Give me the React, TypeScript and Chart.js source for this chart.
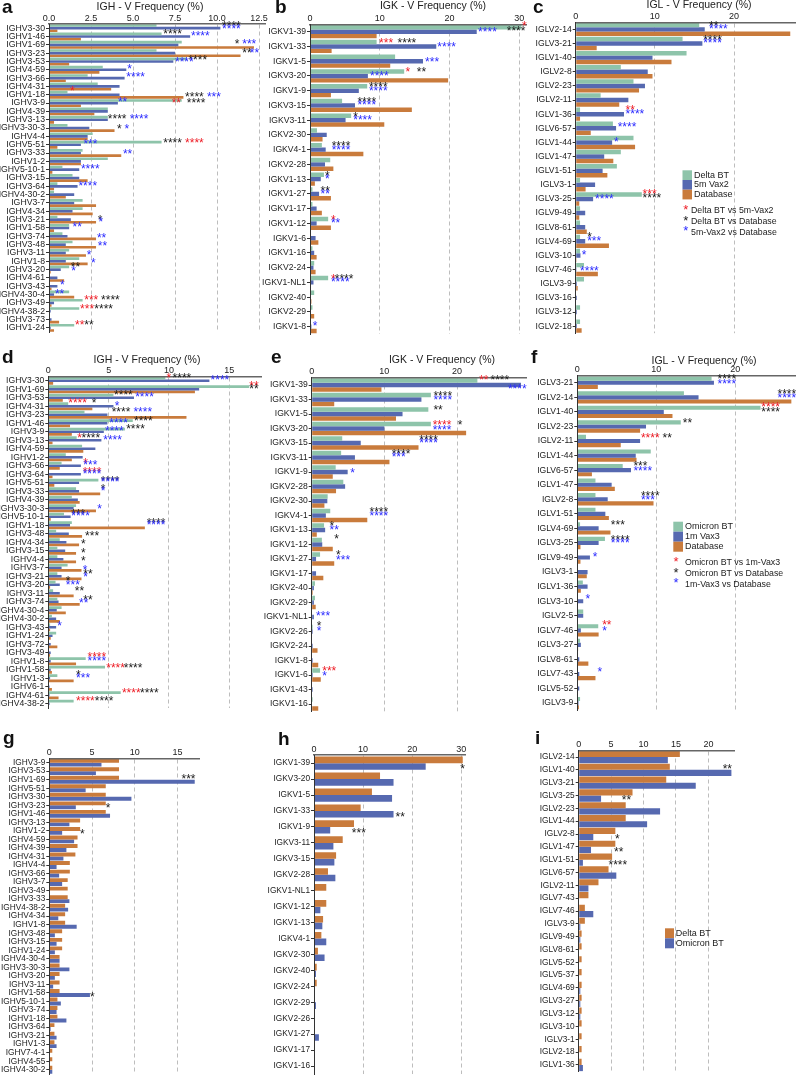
import React, { useEffect, useRef } from 'react';
import { Chart, registerables } from 'chart.js';

Chart.register(...registerables);

const W = 797;
const H = 1080;
const GREEN = '#8ec4aa';
const BLUE = '#5669b0';
const ORANGE = '#c97b3c';
const FAM = '"Liberation Sans", Arial, Helvetica, sans-serif';
const STAR_COLORS: Record<string, string> = { r: '#ee1c25', k: '#1a1a1a', b: '#2b2bff' };

// ---------- panel a : IGH, Delta BT / 5m Vax2 / Database ----------
const aCats = ['IGHV3-30','IGHV1-46','IGHV1-69','IGHV3-23','IGHV3-53','IGHV4-59','IGHV3-66','IGHV4-31','IGHV1-18','IGHV3-9','IGHV4-39','IGHV3-13','IGHV3-30-3','IGHV4-4','IGHV5-51','IGHV3-33','IGHV1-2','IGHV5-10-1','IGHV3-15','IGHV3-64','IGHV4-30-2','IGHV3-7','IGHV4-34','IGHV3-21','IGHV1-58','IGHV3-74','IGHV3-48','IGHV3-11','IGHV1-8','IGHV3-20','IGHV4-61','IGHV3-43','IGHV4-30-4','IGHV3-49','IGHV4-38-2','IGHV3-73','IGHV1-24'];
const aDeltaBT = [6.4,6.7,7.9,6.4,8.2,3.2,2.3,2.9,1.1,7.9,3.5,3.5,1.1,2.6,6.7,2.0,3.5,0.8,1.4,0.5,0.3,2.0,2.0,0.5,1.2,0.8,1.4,1.2,1.8,1.2,0,0.05,1.2,2.0,1.8,0,1.5];
const aVax2 = [10.2,8.4,7.7,7.5,7.4,4.6,4.5,4.2,4.2,4.1,3.5,3.5,2.4,2.3,1.9,1.9,1.9,1.8,1.8,1.7,1.5,1.5,1.4,1.3,1.2,1.1,1.0,1.0,1.0,0.7,0.5,0.5,0.3,0.3,0.1,0.15,0.1];
const aDatabase = [0.5,1.9,12.2,11.4,1.2,3.0,1.0,3.7,8.0,1.9,2.7,0.3,3.9,2.3,0.5,4.3,1.9,0.2,2.3,0.3,1.0,2.8,2.6,2.8,0.3,2.8,2.8,2.2,2.3,0.1,0.9,0.15,1.5,0.15,0,0.6,0.3];
const aTicks = [0, 2.5, 5, 7.5, 10, 12.5];
const aStars: [string, number, number, string, string][] = [
  ['IGHV3-30',0.4,10.3,'k','****'],['IGHV3-30',1.7,10.3,'b','****'],
  ['IGHV1-46',0.3,6.8,'k','****'],['IGHV1-46',1,8.45,'b','****'],
  ['IGHV1-69',1,11.05,'k','*'],['IGHV1-69',1,11.5,'b','***'],
  ['IGHV3-23',1.2,11.5,'k','**'],['IGHV3-23',1.2,11.95,'b','**'],
  ['IGHV3-53',0.6,8.3,'k','****'],['IGHV3-53',1.5,7.5,'b','****'],
  ['IGHV4-59',1,4.65,'b','*'],['IGHV3-66',1,4.6,'b','****'],
  ['IGHV1-18',0,1.25,'r','*'],['IGHV1-18',2,8.1,'k','****'],['IGHV1-18',2,9.4,'b','***'],
  ['IGHV3-9',1,4.1,'b','**'],['IGHV3-9',1.4,7.3,'r','**'],['IGHV3-9',1.4,8.2,'k','****'],
  ['IGHV3-13',1,3.5,'k','****'],['IGHV3-13',1,4.8,'b','****'],
  ['IGHV3-30-3',1.5,4.05,'k','*'],['IGHV3-30-3',1.5,4.5,'b','*'],
  ['IGHV5-51',0.5,6.8,'k','****'],['IGHV5-51',0.5,8.1,'r','****'],['IGHV5-51',1,2.05,'b','***'],
  ['IGHV3-33',1.5,4.4,'b','**'],['IGHV5-10-1',1,1.9,'b','****'],['IGHV3-64',1,1.75,'b','****'],
  ['IGHV3-21',1.5,2.9,'k','*'],['IGHV3-21',2.4,2.95,'b','*'],
  ['IGHV1-58',1,1.4,'b','**'],['IGHV3-74',2,2.85,'b','**'],['IGHV3-48',2,2.9,'b','**'],
  ['IGHV3-11',2,2.25,'b','*'],['IGHV1-8',2,2.5,'b','*'],
  ['IGHV3-20',0.5,1.3,'k','**'],['IGHV3-20',2,1.33,'b','*'],
  ['IGHV3-43',1,0.65,'b','*'],['IGHV4-30-4',1,0.35,'b','**'],
  ['IGHV3-49',0.3,2.1,'r','***'],['IGHV3-49',0.3,3.1,'k','****'],
  ['IGHV4-38-2',0.3,1.85,'r','***'],['IGHV4-38-2',0.3,2.7,'k','****'],
  ['IGHV1-24',0.3,1.55,'r','**'],['IGHV1-24',0.3,2.1,'k','**'],
];

// ---------- panel b : IGK ----------
const bCats = ['IGKV1-39','IGKV1-33','IGKV1-5','IGKV3-20','IGKV1-9','IGKV3-15','IGKV3-11','IGKV2-30','IGKV4-1','IGKV2-28','IGKV1-13','IGKV1-27','IGKV1-17','IGKV1-12','IGKV1-6','IGKV1-16','IGKV2-24','IGKV1-NL1','IGKV2-40','IGKV2-29','IGKV1-8'];
const bDeltaBT = [30.3,9.55,12.2,13.5,8.2,4.6,5.9,1.0,1.7,2.9,2.0,0.35,0.35,2.6,0,0.35,0.6,2.6,0.6,0.35,0];
const bVax2 = [23.9,18.1,16.2,8.3,7.0,6.45,5.1,2.4,2.25,2.15,1.55,1.3,0.95,0.95,0.8,0.6,0.5,0.5,0,0,0.2];
const bDatabase = [9.55,3.1,11.5,19.8,3.0,14.6,10.65,1.8,7.65,3.35,0.7,3.0,1.7,3.0,1.2,0.95,0.8,0,0.2,0.6,0.95];
const bTicks = [0, 10, 20, 30];
const bStars: [string, number, number, string, string][] = [
  ['IGKV1-39',0,30.4,'r','*'],['IGKV1-39',1,28.2,'k','****'],['IGKV1-39',1.3,24.1,'b','****'],
  ['IGKV1-33',0.3,9.9,'r','***'],['IGKV1-33',0.3,12.55,'k','****'],['IGKV1-33',1.3,18.25,'b','****'],
  ['IGKV1-5',1.3,16.5,'b','***'],
  ['IGKV3-20',0.3,13.7,'r','*'],['IGKV3-20',0.3,15.3,'k','**'],['IGKV3-20',1.3,8.6,'b','****'],
  ['IGKV1-9',0.45,8.45,'k','****'],['IGKV1-9',1.2,8.45,'b','****'],
  ['IGKV3-15',0.45,6.8,'k','****'],['IGKV3-15',1.2,6.8,'b','****'],
  ['IGKV3-11',0.45,6.2,'k','*'],['IGKV3-11',1.2,6.2,'b','****'],
  ['IGKV4-1',0.45,3.1,'k','****'],['IGKV4-1',1.2,3.1,'b','****'],
  ['IGKV1-13',0.45,2.15,'k','*'],['IGKV1-13',1.2,2.15,'b','*'],
  ['IGKV1-27',0.45,1.5,'k','**'],['IGKV1-27',1.2,1.5,'b','**'],
  ['IGKV1-12',0.45,3.0,'r','*'],['IGKV1-12',1.2,3.0,'b','**'],
  ['IGKV1-NL1',0.45,3.0,'r','*'],['IGKV1-NL1',0.45,3.55,'k','****'],['IGKV1-NL1',1.2,3.0,'b','****'],
  ['IGKV1-8',1,0.4,'b','*'],
];

// ---------- panel c : IGL ----------
const cCats = ['IGLV2-14','IGLV3-21','IGLV1-40','IGLV2-8','IGLV2-23','IGLV2-11','IGLV1-36','IGLV6-57','IGLV1-44','IGLV1-47','IGLV1-51','IGLV3-1','IGLV3-25','IGLV9-49','IGLV8-61','IGLV4-69','IGLV3-10','IGLV7-46','IGLV3-9','IGLV3-16','IGLV3-12','IGLV2-18'];
const cDeltaBT = [15.6,13.5,14.0,5.7,7.3,3.15,0.55,4.7,7.3,5.7,5.2,0.55,8.35,0.55,0.55,0.55,0.55,1.05,1.05,0,0.55,0.55];
const cVax2 = [16.3,16.0,9.7,9.1,8.75,6.65,6.1,5.1,4.6,3.6,3.4,2.45,2.2,1.2,1.2,1.2,0.6,0.1,0.15,0.15,0.15,0.15];
const cDatabase = [27.1,2.65,12.1,9.7,8.0,5.5,0.55,1.9,7.5,4.75,4.0,1.25,0.45,0.45,1.4,4.2,0.1,2.8,0.25,0,0,0.75];
const cTicks = [0, 10, 20];
const cStars: [string, number, number, string, string][] = [
  ['IGLV2-14',0.4,16.85,'k','**'],['IGLV2-14',1.1,16.85,'b','****'],
  ['IGLV3-21',0.4,16.1,'k','****'],['IGLV3-21',1.1,16.1,'b','****'],
  ['IGLV1-36',0.3,6.3,'r','**'],['IGLV1-36',1.2,6.3,'b','****'],
  ['IGLV6-57',1,5.3,'b','****'],['IGLV1-44',1,4.85,'b','*'],
  ['IGLV3-25',0.1,8.45,'r','***'],['IGLV3-25',1.0,8.45,'k','****'],['IGLV3-25',1.2,2.45,'b','****'],
  ['IGLV4-69',0.2,1.45,'k','*'],['IGLV4-69',1.1,1.45,'b','***'],
  ['IGLV3-10',1,0.75,'b','*'],['IGLV7-46',1.5,0.55,'b','****'],
];
const cStarLegend = ['Delta BT vs 5m-Vax2', 'Delta BT vs Database', '5m-Vax2 vs Database'];

// ---------- panel d : IGH, Omicron BT / 1m Vax3 / Database ----------
const dCats = ['IGHV3-30','IGHV1-69','IGHV3-53','IGHV4-31','IGHV3-23','IGHV1-46','IGHV3-9','IGHV3-13','IGHV4-59','IGHV1-2','IGHV3-66','IGHV3-64','IGHV5-51','IGHV3-33','IGHV4-39','IGHV3-30-3','IGHV5-10-1','IGHV1-18','IGHV3-48','IGHV4-34','IGHV3-15','IGHV4-4','IGHV3-7','IGHV3-21','IGHV3-20','IGHV3-11','IGHV3-74','IGHV4-30-4','IGHV4-30-2','IGHV3-43','IGHV1-24','IGHV3-72','IGHV3-49','IGHV1-8','IGHV1-58','IGHV1-3','IGHV6-1','IGHV4-61','IGHV4-38-2'];
const dOmicronBT = [9.7,16.65,5.4,1.65,3.0,7.0,6.35,2.35,2.8,1.45,1.1,0,4.15,2.3,1.95,2.3,1.3,1.95,0.65,0.95,0.75,0.75,1.6,0.75,0.6,0.4,0.75,1.1,0.3,0.15,0.65,0,0,3.1,4.7,0.75,0,6.0,2.1];
const dVax3 = [13.35,12.5,7.1,5.4,4.9,4.9,4.6,4.4,3.9,2.85,2.7,2.7,2.55,2.55,2.45,2.1,1.85,1.8,1.7,1.5,1.4,1.25,1.1,1.1,0.95,0.95,0.85,0.7,0.65,0.65,0.35,0.2,0.2,0.2,0.2,0.15,0.1,0.1,0.1];
const dDatabase = [0.4,12.15,1.2,3.65,11.45,1.8,1.95,0.35,2.9,1.95,0.95,0.35,0.5,4.3,2.6,3.95,0.2,8.0,2.8,2.55,2.3,2.3,2.75,2.75,0.15,2.1,2.6,1.45,0.95,0.15,0.2,0.75,0.15,2.3,0.3,2.1,0.3,0.85,0];
const dTicks = [0, 5, 10, 15];
const dStars: [string, number, number, string, string][] = [
  ['IGHV3-30',0.2,9.8,'r','*'],['IGHV3-30',0.2,10.3,'k','****'],['IGHV3-30',1.2,13.45,'b','****'],
  ['IGHV1-69',0,16.65,'r','**'],['IGHV1-69',1.2,16.65,'k','**'],
  ['IGHV3-53',0.3,5.45,'k','****'],['IGHV3-53',1,7.2,'b','****'],
  ['IGHV4-31',0.2,1.65,'r','****'],['IGHV4-31',0.2,3.6,'k','*'],['IGHV4-31',1.3,5.5,'b','*'],
  ['IGHV3-23',0.3,5.25,'k','****'],['IGHV3-23',0.3,7.05,'b','****'],
  ['IGHV1-46',0.3,7.1,'k','****'],['IGHV1-46',1.2,5.05,'b','****'],
  ['IGHV3-9',0.2,6.45,'k','****'],['IGHV3-9',1.1,4.7,'b','****'],
  ['IGHV3-13',0.3,2.4,'r','*'],['IGHV3-13',0.3,2.75,'k','****'],['IGHV3-13',1.2,4.55,'b','****'],
  ['IGHV3-66',0.4,2.9,'r','*'],['IGHV3-66',1.2,2.9,'b','***'],
  ['IGHV3-64',0.6,2.85,'r','****'],['IGHV3-64',1.2,2.85,'b','****'],
  ['IGHV5-51',0.5,4.35,'k','****'],['IGHV5-51',1.2,4.35,'b','****'],
  ['IGHV3-33',0.4,4.35,'k','*'],['IGHV3-33',1.2,4.35,'b','*'],
  ['IGHV3-30-3',1.4,4.05,'b','*'],
  ['IGHV5-10-1',0.3,1.9,'k','***'],['IGHV5-10-1',1.2,1.9,'b','****'],
  ['IGHV1-18',0.5,8.15,'k','****'],['IGHV1-18',1.2,8.15,'b','****'],
  ['IGHV3-48',2,3.05,'k','***'],['IGHV4-34',2,2.7,'k','*'],['IGHV3-15',2,2.7,'k','*'],['IGHV4-4',2,2.7,'k','*'],
  ['IGHV3-7',2,2.85,'b','*'],
  ['IGHV3-21',0.4,2.9,'k','**'],['IGHV3-21',1.6,2.9,'b','*'],
  ['IGHV3-20',0,1.45,'k','*'],['IGHV3-20',1.3,1.45,'b','***'],
  ['IGHV3-11',0.5,2.2,'k','**'],
  ['IGHV3-74',0.5,2.9,'k','**'],['IGHV3-74',1.7,2.55,'b','**'],
  ['IGHV3-43',1,0.75,'b','*'],
  ['IGHV1-8',-0.4,3.25,'r','****'],['IGHV1-8',1.3,3.25,'b','****'],
  ['IGHV1-58',0.5,4.8,'r','****'],['IGHV1-58',0.5,6.25,'k','****'],
  ['IGHV1-3',0,2.3,'k','*'],['IGHV1-3',1.2,2.3,'b','***'],
  ['IGHV4-61',0.3,6.1,'r','****'],['IGHV4-61',0.3,7.6,'k','****'],
  ['IGHV4-38-2',0.3,2.3,'r','****'],['IGHV4-38-2',0.3,3.85,'k','****'],
];

// ---------- panel e : IGK ----------
const eCats = ['IGKV1-39','IGKV1-33','IGKV1-5','IGKV3-20','IGKV3-15','IGKV3-11','IGKV1-9','IGKV2-28','IGKV2-30','IGKV4-1','IGKV1-13','IGKV1-12','IGKV1-27','IGKV1-17','IGKV2-40','IGKV2-29','IGKV1-NL1','IGKV2-26','IGKV2-24','IGKV1-8','IGKV1-6','IGKV1-43','IGKV1-16'];
const eOmicronBT = [22.8,16.4,16.05,16.4,4.2,4.05,3.3,4.35,2.2,2.55,1.7,1.4,1.15,0,0.45,0.45,0,0.15,0,0,1.15,0,0.15];
const eVax3 = [28.8,15.1,12.5,10.0,6.75,5.95,4.95,4.6,2.15,1.95,1.85,1.45,0.6,0.6,0.3,0.3,0.3,0.15,0.15,0.15,0.15,0.15,0];
const eDatabase = [9.6,3.1,11.6,21.25,14.7,10.7,2.9,3.35,1.75,7.65,0.7,2.9,3.1,1.6,0.15,0.55,0,0,0.8,0.9,1.25,0,0.9];
const eTicks = [0, 10, 20];
const eStars: [string, number, number, string, string][] = [
  ['IGKV1-39',0.1,23.05,'r','**'],['IGKV1-39',0.1,24.6,'k','****'],['IGKV1-39',2,27,'b','****'],
  ['IGKV1-33',0.4,16.75,'k','****'],['IGKV1-33',1.2,16.75,'b','****'],
  ['IGKV1-5',0.2,16.75,'k','**'],
  ['IGKV3-20',0.4,16.65,'r','****'],['IGKV3-20',0.4,20.1,'k','*'],['IGKV3-20',1.4,16.65,'b','****'],
  ['IGKV3-15',0.5,14.8,'k','****'],['IGKV3-15',1.2,14.8,'b','****'],
  ['IGKV3-11',0.3,11.0,'k','****'],['IGKV3-11',1.1,11.0,'b','***'],
  ['IGKV1-9',1.3,5.3,'b','*'],
  ['IGKV4-1',0.4,7.95,'k','****'],['IGKV4-1',1.2,7.95,'b','****'],
  ['IGKV1-13',0.3,2.45,'k','*'],['IGKV1-13',1.2,2.45,'b','**'],
  ['IGKV1-12',0,3.1,'k','*'],
  ['IGKV1-27',0.3,3.35,'k','*'],['IGKV1-27',1.3,3.35,'b','***'],
  ['IGKV1-NL1',1,0.6,'b','***'],
  ['IGKV2-26',0,0.7,'k','*'],['IGKV2-26',1,0.7,'b','*'],
  ['IGKV1-6',0.3,1.45,'r','***'],['IGKV1-6',1.3,1.45,'b','*'],
];

// ---------- panel f : IGL ----------
const fCats = ['IGLV3-21','IGLV2-14','IGLV1-40','IGLV2-23','IGLV2-11','IGLV1-44','IGLV6-57','IGLV1-47','IGLV2-8','IGLV1-51','IGLV4-69','IGLV3-25','IGLV9-49','IGLV3-1','IGLV1-36','IGLV3-10','IGLV2-5','IGLV7-46','IGLV3-27','IGLV8-61','IGLV7-43','IGLV5-52','IGLV3-9'];
const fOmicronBT = [17.0,13.5,23.2,13.1,1.1,9.3,5.75,2.3,2.3,2.3,0.35,3.5,0,0,0.7,0,0.75,2.65,0.35,0,0,0,0.35];
const fVax3 = [17.3,15.35,10.95,8.7,7.95,7.4,6.8,4.35,3.85,3.55,2.7,2.7,1.6,1.3,1.3,0.75,0.75,0.45,0.45,0.25,0.25,0.25,0.15];
const fDatabase = [2.6,27.1,12.05,7.95,5.5,7.5,1.85,4.75,9.65,4.0,4.2,0.4,0.4,1.2,0.45,0.05,0,2.7,0.1,1.4,2.3,0,0.2];
const fTicks = [0, 10, 20];
const fStars: [string, number, number, string, string][] = [
  ['IGLV3-21',0.35,17.75,'k','****'],['IGLV3-21',1.4,17.75,'b','****'],
  ['IGLV2-14',0.4,25.35,'k','****'],['IGLV2-14',1.35,25.35,'b','****'],
  ['IGLV1-40',0.1,23.3,'r','****'],['IGLV1-40',1.2,23.3,'k','****'],
  ['IGLV2-23',0.4,13.35,'k','**'],
  ['IGLV2-11',0.5,8.05,'r','****'],['IGLV2-11',0.5,10.8,'k','**'],
  ['IGLV6-57',0.3,7.1,'k','***'],['IGLV6-57',1.3,7.1,'b','****'],
  ['IGLV2-8',0.5,8.05,'k','****'],['IGLV2-8',1.3,8.05,'b','***'],
  ['IGLV4-69',0.3,4.25,'k','***'],
  ['IGLV3-25',0.4,4.25,'k','****'],['IGLV3-25',1.3,4.25,'b','****'],
  ['IGLV9-49',1.1,1.95,'b','*'],['IGLV3-10',0.7,1.05,'b','*'],
  ['IGLV7-46',0,3.15,'r','**'],['IGLV7-46',1.4,3.15,'b','*'],
  ['IGLV7-43',0.6,2.55,'b','*'],
];
const fStarLegend = ['Omicron BT vs 1m-Vax3', 'Omicron BT vs Database', '1m-Vax3 vs Database'];

// ---------- panel g : IGH, Delta BT vs Omicron BT ----------
const gCats = ['IGHV3-9','IGHV3-53','IGHV1-69','IGHV5-51','IGHV3-30','IGHV3-23','IGHV1-46','IGHV3-13','IGHV1-2','IGHV4-59','IGHV4-39','IGHV4-31','IGHV4-4','IGHV3-66','IGHV3-7','IGHV3-49','IGHV3-33','IGHV4-38-2','IGHV4-34','IGHV1-8','IGHV3-48','IGHV3-15','IGHV1-24','IGHV4-30-4','IGHV3-30-3','IGHV3-20','IGHV3-11','IGHV1-58','IGHV5-10-1','IGHV3-74','IGHV1-18','IGHV3-64','IGHV3-21','IGHV1-3','IGHV7-4-1','IGHV4-55','IGHV4-30-2'];
const gDeltaBT = [8.15,8.15,8.15,6.6,6.6,6.6,6.6,3.6,3.6,3.3,3.3,3.05,2.4,2.4,2.15,2.15,2.15,1.85,1.85,1.85,1.5,1.5,1.5,1.2,1.2,1.2,1.2,1.2,0.95,0.95,0.95,0.6,0.6,0.6,0.35,0.35,0.35];
const gOmicronBT = [6.1,5.45,17.0,4.25,9.6,3.1,7.1,2.35,1.5,2.9,2.0,1.65,0.85,1.15,1.5,0,2.35,2.2,1.05,3.2,0.65,0.85,0.65,1.2,2.35,0.65,0.45,4.75,1.35,0.85,2.0,0.15,0.85,0.85,0,0,0.35];
const gTicks = [0, 5, 10, 15];
const gStars: [string, number, number, string, string][] = [
  ['IGHV1-69',-0.4,15.45,'k','***'],['IGHV3-23',0.6,6.6,'k','*'],
  ['IGHV1-2',0.7,3.6,'k','*'],['IGHV1-58',1,4.75,'k','*'],
];

// ---------- panel h : IGK ----------
const hCats = ['IGKV1-39','IGKV3-20','IGKV1-5','IGKV1-33','IGKV1-9','IGKV3-11','IGKV3-15','IGKV2-28','IGKV1-NL1','IGKV1-12','IGKV1-13','IGKV4-1','IGKV2-30','IGKV2-40','IGKV2-24','IGKV2-29','IGKV2-26','IGKV1-27','IGKV1-17','IGKV1-16'];
const hDeltaBT = [30.3,13.45,11.8,9.5,8.15,5.85,4.5,2.85,2.5,2.5,1.85,1.5,0.8,0.55,0.55,0.2,0.2,0.2,0.2,0.2];
const hOmicronBT = [22.75,16.2,15.9,16.2,3.3,3.95,4.15,4.35,0,1.3,1.7,2.5,2.15,0.4,0,0.4,0.15,1.0,0,0.1];
const hTicks = [0, 10, 20, 30];
const hStars: [string, number, number, string, string][] = [
  ['IGKV1-39',1,29.8,'k','*'],['IGKV1-33',1,16.6,'k','**'],['IGKV1-9',1,7.7,'k','***'],
];

// ---------- panel i : IGL ----------
const iCats = ['IGLV2-14','IGLV1-40','IGLV3-21','IGLV3-25','IGLV2-23','IGLV1-44','IGLV2-8','IGLV1-47','IGLV1-51','IGLV6-57','IGLV2-11','IGLV7-43','IGLV7-46','IGLV3-9','IGLV9-49','IGLV8-61','IGLV5-52','IGLV5-37','IGLV4-69','IGLV3-27','IGLV3-12','IGLV3-10','IGLV3-1','IGLV2-18','IGLV1-36'];
const iDeltaBT = [15.6,14.05,13.5,8.3,7.25,7.25,5.65,5.65,5.15,4.6,3.05,1.5,0.95,0.95,0.45,0.45,0.45,0.45,0.45,0.45,0.45,0.45,0.45,0.45,0.45];
const iOmicronBT = [13.75,23.55,18.05,3.45,12.55,10.55,2.25,1.9,0.65,5.8,1.5,0,2.25,0.25,0.25,0,0,0,0.25,0.25,0.25,0,0,0,0.65];
const iTicks = [0, 5, 10, 15, 20];
const iStars: [string, number, number, string, string][] = [
  ['IGLV1-40',0,22.2,'k','**'],['IGLV3-25',0.9,6.65,'k','**'],['IGLV2-8',0.9,5.6,'k','*'],
  ['IGLV1-47',0.9,5.45,'k','**'],['IGLV1-51',1,4.6,'k','****'],
];

type Series = { label: string; data: number[]; color: string };
type Spec = {
  id: string; letterPos: [number, number]; title?: string; titlePos?: [number, number];
  cats: string[]; series: Series[]; ticks: number[]; fmt: (v: number) => string; max: number;
  rect: [number, number, number, number]; catPct: number; stars: [string, number, number, string, string][];
  labelSize: number;
  legend?: { boxX: number; boxW: number; boxTops: number[]; boxH: number; textX: number;
    starX?: number; starTextX?: number; starYs?: number[]; starLabels?: string[] };
};

const plain = (v: number) => String(v);
const triad = (l1: string, d1: number[], l2: string, d2: number[], d3: number[]): Series[] => [
  { label: l1, data: d1, color: GREEN }, { label: l2, data: d2, color: BLUE }, { label: 'Database', data: d3, color: ORANGE },
];
const duo = (d1: number[], d2: number[]): Series[] => [
  { label: 'Delta BT', data: d1, color: ORANGE }, { label: 'Omicron BT', data: d2, color: BLUE },
];

const specs: Spec[] = [
  { id: 'a', letterPos: [2, 13], title: 'IGH - V Frequency (%)', titlePos: [150, 7], cats: aCats,
    series: triad('Delta BT', aDeltaBT, '5m Vax2', aVax2, aDatabase), ticks: aTicks, fmt: (v) => v.toFixed(1),
    max: 12.88, rect: [49, 24, 265.4, 332], catPct: 0.95, stars: aStars, labelSize: 8.7 },
  { id: 'b', letterPos: [275, 13], title: 'IGK - V Frequency (%)', titlePos: [433, 6.5], cats: bCats,
    series: triad('Delta BT', bDeltaBT, '5m Vax2', bVax2, bDatabase), ticks: bTicks, fmt: plain,
    max: 31.05, rect: [310, 24.3, 526.6, 334], catPct: 0.9, stars: bStars, labelSize: 8.6 },
  { id: 'c', letterPos: [533, 13], title: 'IGL - V Frequency (%)', titlePos: [699, 5.5], cats: cCats,
    series: triad('Delta BT', cDeltaBT, '5m Vax2', cVax2, cDatabase), ticks: cTicks, fmt: plain,
    max: 27.7, rect: [575.7, 22.3, 795, 333.2], catPct: 0.95, stars: cStars, labelSize: 8.6,
    legend: { boxX: 682.5, boxW: 9.5, boxTops: [170.3, 180, 189.7], boxH: 9.7, textX: 694,
      starX: 683.3, starTextX: 691, starYs: [211, 221.7, 232.3], starLabels: cStarLegend } },
  { id: 'd', letterPos: [2, 363], title: 'IGH - V Frequency (%)', titlePos: [147, 360.5], cats: dCats,
    series: triad('Omicron BT', dOmicronBT, '1m Vax3', dVax3, dDatabase), ticks: dTicks, fmt: plain,
    max: 17.7, rect: [48.3, 376.5, 261.9, 708], catPct: 0.94, stars: dStars, labelSize: 8.6 },
  { id: 'e', letterPos: [271, 363], title: 'IGK - V Frequency (%)', titlePos: [442, 360], cats: eCats,
    series: triad('Omicron BT', eOmicronBT, '1m Vax3', eVax3, eDatabase), ticks: eTicks, fmt: plain,
    max: 29.6, rect: [311.7, 377.8, 526.8, 711.3], catPct: 0.94, stars: eStars, labelSize: 8.6 },
  { id: 'f', letterPos: [531, 363], title: 'IGL - V Frequency (%)', titlePos: [704, 361], cats: fCats,
    series: triad('Omicron BT', fOmicronBT, '1m Vax3', fVax3, fDatabase), ticks: fTicks, fmt: plain,
    max: 27.6, rect: [577.3, 375.5, 795.3, 710.4], catPct: 0.85, stars: fStars, labelSize: 8.6,
    legend: { boxX: 673.3, boxW: 9.7, boxTops: [521.7, 531.7, 541.7], boxH: 10, textX: 685,
      starX: 673.6, starTextX: 685, starYs: [563, 573.7, 584.3], starLabels: fStarLegend } },
  { id: 'g', letterPos: [3, 744], cats: gCats, series: duo(gDeltaBT, gOmicronBT), ticks: gTicks, fmt: plain,
    max: 17.5, rect: [49.3, 758.4, 199, 1078.5], catPct: 0.92, stars: gStars, labelSize: 8.3 },
  { id: 'h', letterPos: [278, 745], cats: hCats, series: duo(hDeltaBT, hOmicronBT), ticks: hTicks, fmt: plain,
    max: 30.9, rect: [314, 755.2, 465.7, 1077.2], catPct: 0.83, stars: hStars, labelSize: 8.3 },
  { id: 'i', letterPos: [535, 744], cats: iCats, series: duo(iDeltaBT, iOmicronBT), ticks: iTicks, fmt: plain,
    max: 23.95, rect: [578.7, 750.6, 734, 1071.4], catPct: 0.96, stars: iStars, labelSize: 8.3,
    legend: { boxX: 665, boxW: 9, boxTops: [928.3, 938.3], boxH: 10, textX: 675.7 } },
];

const letters: Record<string, string> = { a: 'a', b: 'b', c: 'c', d: 'd', e: 'e', f: 'f', g: 'g', h: 'h', i: 'i' };

function makeDecor(spec: Spec) {
  return {
    id: 'decor_' + spec.id,
    afterDraw(chart: any) {
      const ctx: CanvasRenderingContext2D = chart.ctx;
      const xs = chart.scales.x;
      const ys = chart.scales.y;
      ctx.save();
      // panel letter
      ctx.fillStyle = '#111';
      ctx.textAlign = 'left';
      ctx.textBaseline = 'alphabetic';
      ctx.font = `bold 19px ${FAM}`;
      ctx.fillText(letters[spec.id], spec.letterPos[0], spec.letterPos[1]);
      // title
      if (spec.title && spec.titlePos) {
        ctx.font = `10.5px ${FAM}`;
        ctx.fillStyle = '#222';
        ctx.textAlign = 'center';
        ctx.textBaseline = 'middle';
        ctx.fillText(spec.title, spec.titlePos[0], spec.titlePos[1]);
      }
      // significance stars
      const n = spec.series.length;
      const cat = ys.getPixelForValue(1) - ys.getPixelForValue(0);
      const barH = (cat * spec.catPct) / n;
      ctx.font = `12px ${FAM}`;
      const m = ctx.measureText('*');
      const off = (m.actualBoundingBoxAscent - m.actualBoundingBoxDescent) / 2;
      ctx.textAlign = 'left';
      ctx.textBaseline = 'alphabetic';
      for (const [c, row, xv, col, txt] of spec.stars) {
        const idx = spec.cats.indexOf(c);
        if (idx < 0) continue;
        const y = ys.getPixelForValue(idx) + (row - (n - 1) / 2) * barH;
        ctx.fillStyle = STAR_COLORS[col];
        ctx.fillText(txt, xs.getPixelForValue(xv), y + off);
      }
      // legend
      const lg = spec.legend;
      if (lg) {
        spec.series.forEach((s, k) => {
          ctx.fillStyle = s.color;
          ctx.fillRect(lg.boxX, lg.boxTops[k], lg.boxW, lg.boxH);
          ctx.fillStyle = '#222';
          ctx.font = `9px ${FAM}`;
          ctx.textBaseline = 'middle';
          ctx.textAlign = 'left';
          ctx.fillText(s.label, lg.textX, lg.boxTops[k] + lg.boxH / 2);
        });
        if (lg.starLabels && lg.starYs) {
          const cols = ['r', 'k', 'b'];
          lg.starLabels.forEach((t, k) => {
            ctx.font = `13px ${FAM}`;
            const mm = ctx.measureText('*');
            const o2 = (mm.actualBoundingBoxAscent - mm.actualBoundingBoxDescent) / 2;
            ctx.textBaseline = 'alphabetic';
            ctx.fillStyle = STAR_COLORS[cols[k]];
            ctx.fillText('*', lg.starX as number, lg.starYs![k] + o2);
            ctx.font = `8.8px ${FAM}`;
            ctx.textBaseline = 'middle';
            ctx.fillStyle = '#222';
            ctx.fillText(t, lg.starTextX as number, lg.starYs![k]);
          });
        }
      }
      ctx.restore();
    },
  };
}

function buildConfig(spec: Spec): any {
  const [L, T, R, B] = spec.rect;
  return {
    type: 'bar',
    data: {
      labels: spec.cats,
      datasets: spec.series.map((s) => ({
        label: s.label,
        data: s.data,
        backgroundColor: s.color,
        borderWidth: 0,
        categoryPercentage: spec.catPct,
        barPercentage: 1,
      })),
    },
    options: {
      indexAxis: 'y',
      responsive: false,
      animation: false,
      devicePixelRatio: 1,
      events: [],
      layout: { autoPadding: false, padding: { left: 0, top: 0, right: W - R, bottom: H - B } },
      plugins: { legend: { display: false }, tooltip: { enabled: false }, title: { display: false } },
      scales: {
        x: {
          type: 'linear',
          position: 'top',
          min: 0,
          max: spec.max,
          afterBuildTicks: (sc: any) => { sc.ticks = spec.ticks.map((v) => ({ value: v })); },
          afterFit: (sc: any) => { sc.height = T; },
          ticks: {
            callback: (v: any) => spec.fmt(Number(v)),
            font: { family: FAM, size: 9 },
            color: '#222',
            padding: 0.5,
            maxRotation: 0,
            autoSkip: false,
          },
          grid: { color: '#bdbdbd', lineWidth: 1, drawTicks: false },
          border: { display: true, color: '#666', width: 1.5, dash: [4, 3], z: 1 },
        },
        y: {
          type: 'category',
          position: 'left',
          afterFit: (sc: any) => { sc.width = L; },
          ticks: { font: { family: FAM, size: spec.labelSize }, color: '#222', padding: 1, autoSkip: false },
          grid: { display: true, offset: false, drawOnChartArea: false, drawTicks: true, tickLength: 3, tickColor: '#333', tickWidth: 1 },
          border: { display: true, color: '#333', width: 1, z: 1 },
        },
      },
    },
    plugins: [makeDecor(spec)],
  };
}

function Panel({ spec }: { spec: Spec }) {
  const ref = useRef<HTMLCanvasElement | null>(null);
  useEffect(() => {
    if (!ref.current) return;
    const chart = new Chart(ref.current, buildConfig(spec));
    return () => chart.destroy();
  }, [spec]);
  return (
    <canvas
      ref={ref}
      width={W}
      height={H}
      style={{ position: 'absolute', left: 0, top: 0, width: W, height: H }}
    />
  );
}

export default function App() {
  return (
    <div style={{ position: 'absolute', left: 0, top: 0, width: W, height: H, overflow: 'hidden', background: '#fff' }}>
      {specs.map((s) => (
        <Panel key={s.id} spec={s} />
      ))}
    </div>
  );
}
